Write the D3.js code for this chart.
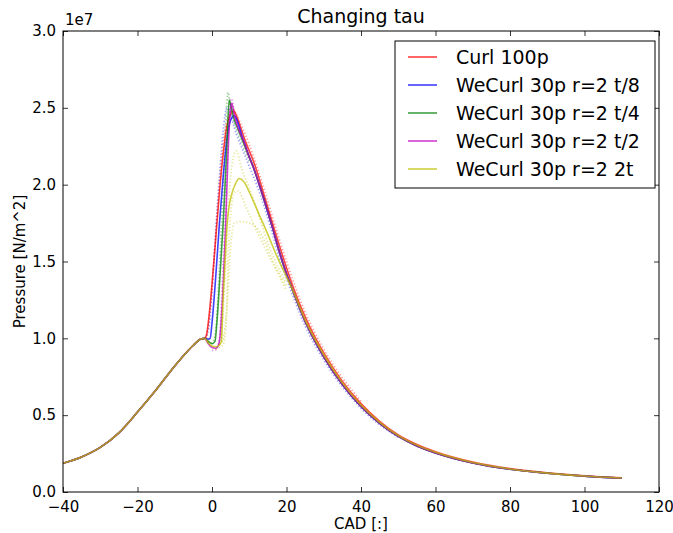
<!DOCTYPE html>
<html>
<head>
<meta charset="utf-8">
<script src="https://cdn.jsdelivr.net/npm/d3@7"></script>
<style>
  body { margin: 0; background: #fff; }
  svg { font-family: "DejaVu Sans", sans-serif; }
</style>
</head>
<body>
<svg id="chart" width="673" height="533"></svg>
<script>
// pressure values are in units of 1e7 N/m^2, x is CAD

// shared compression stroke (all runs lie on top of each other here)
var compression = [[-40,0.187],[-35,0.228],[-30,0.29],[-25,0.385],[-20,0.52],[-15,0.665],
  [-10,0.82],[-7,0.905],[-5,0.955],[-3,0.995],[-2,1.0]];

// combustion part of each run
var redBurn = [[-1.5,1.02],[-1,1.1],[0,1.35],[1,1.65],[2,1.95],[3,2.2],[4,2.38],[5,2.46],
  [5.8,2.48],[7,2.42],[8,2.35],[9,2.28],[10,2.22],[11,2.16],[12,2.09],[14,1.93],[16,1.77],[18,1.61]];
var blueBurn = [[-1,0.995],[-0.5,1.0],[0,1.1],[1,1.4],[2,1.75],[3,2.05],[4,2.3],[5,2.42],
  [6,2.45],[7,2.4],[8,2.32],[9,2.25],[10,2.18],[11,2.12],[12,2.05],[14,1.9],[16,1.74],[18,1.57]];
var greenBurn = [[-1,0.98],[0,0.965],[0.8,0.98],[1.3,1.1],[2,1.35],[3,1.75],[4,2.25],[4.6,2.55],
  [5.2,2.5],[6,2.42],[7,2.36],[8,2.3],[9,2.24],[10,2.18],[11,2.12],[12,2.05],[14,1.9],[16,1.74],[18,1.57]];
var magentaBurn = [[-1,0.965],[0,0.94],[1,0.935],[1.8,0.96],[2.3,1.05],[3,1.35],[3.7,1.75],
  [4.3,2.2],[5,2.5],[5.3,2.53],[6,2.45],[7,2.37],[8,2.31],[9,2.25],[10,2.18],[11,2.12],[12,2.05],
  [14,1.9],[16,1.74],[18,1.57]];
var yellowBurn = [[-1,0.97],[0,0.95],[1,0.945],[2,0.955],[2.5,0.98],[3,1.27],[3.5,1.5],[4,1.73],
  [4.6,1.86],[5.3,1.94],[6.2,2.0],[7.25,2.04],[8.5,2.02],[10.6,1.92],[12.4,1.82],[15.1,1.67],
  [17.5,1.53]];

// expansion stroke
var redExpansion = [[20,1.46],[22,1.32],[25,1.14],[30,0.905],[35,0.72],[40,0.575],[45,0.46],
  [50,0.372],[55,0.31],[60,0.262],[70,0.195],[80,0.152],[90,0.125],[100,0.106],[110,0.093]];
var weExpansion = [[20,1.42],[22,1.29],[25,1.11],[30,0.88],[35,0.70],[40,0.557],[45,0.447],
  [50,0.362],[55,0.3],[60,0.254],[70,0.189],[80,0.148],[90,0.122],[100,0.103],[110,0.09]];
var yellowExpansion = [[20,1.40],[22,1.295],[25,1.12],[30,0.893],[35,0.71],[40,0.566],
  [45,0.453],[50,0.367],[55,0.305],[60,0.258],[70,0.192],[80,0.15],[90,0.123],[100,0.104],[110,0.091]];

// faint dotted traces of the single runs
var redDots = [[-1.5,1.0],[-0.5,1.2],[0.5,1.5],[1.5,1.85],[2.5,2.15],[3.5,2.35],[4.5,2.45],
  [5.5,2.5],[6.5,2.46],[8,2.38],[10,2.26],[12,2.12],[14,1.97],[16,1.81],[18,1.65],[20,1.5],
  [25,1.17],[30,0.93],[40,0.59]];
var blueDots = [[-2,1.0],[-1,1.05],[0,1.3],[1,1.7],[2,2.05],[3,2.35],[4,2.5],[5,2.46],[6,2.37],
  [8,2.24],[10,2.12],[12,2.0],[14,1.86],[16,1.7],[18,1.53],[20,1.39],[25,1.08],[30,0.86],
  [40,0.545],[50,0.355]];
var greenDots = [[-1,0.98],[0,0.97],[1,1.05],[2,1.45],[3,2.0],[3.8,2.45],[4.3,2.6],[5,2.5],
  [6,2.4],[8,2.27],[10,2.15]];
var magentaDots = [[0,0.92],[1,0.925],[2,1.0],[3,1.5],[4,2.1],[4.8,2.5],[5.3,2.56],[6,2.47],
  [8,2.31],[10,2.17]];
var yellowDots1 = [[2,0.96],[3,1.0],[4,1.2],[5,1.6],[6,1.75],[8,1.76],[10,1.75],[12,1.72],
  [14,1.64],[16,1.52],[18,1.42],[20,1.34]];
var yellowDots2 = [[2.5,0.98],[3.5,1.4],[4.5,1.9],[5.5,2.15],[6.5,2.22],[8,2.1],[10,1.98],
  [12,1.84],[15,1.62],[18,1.45],[20,1.36]];
var yellowDots3 = [[1,0.93],[2,0.94],[3,0.96],[3.8,1.1],[4.3,1.5],[5,1.8],[6,1.95],[7,1.96],
  [9,1.86],[12,1.7],[15,1.55],[18,1.41],[20,1.31]];

var seriesNames = ["Curl 100p", "WeCurl 30p r=2 t/8", "WeCurl 30p r=2 t/4",
  "WeCurl 30p r=2 t/2", "WeCurl 30p r=2 2t"];
var seriesColors = ["#ff0000", "#0000ff", "#008000", "#bf00bf", "#bfbf00"];

var xTicks = [-40, -20, 0, 20, 40, 60, 80, 100, 120];
var yTicks = [0, 0.5, 1.0, 1.5, 2.0, 2.5, 3.0];

var solid = [
  compression.concat(redBurn, redExpansion),
  compression.concat(blueBurn, weExpansion),
  compression.concat(greenBurn, weExpansion),
  compression.concat(magentaBurn, weExpansion),
  compression.concat(yellowBurn, yellowExpansion)
];
var dotted = [
  {c: 0, d: redDots}, {c: 1, d: blueDots}, {c: 2, d: greenDots}, {c: 3, d: magentaDots},
  {c: 4, d: yellowDots1}, {c: 4, d: yellowDots2}, {c: 4, d: yellowDots3}
];

var svg = d3.select("#chart"),
    margin = {top: 31, right: 14, bottom: 41, left: 63},
    width = +svg.attr("width") - margin.left - margin.right,
    height = +svg.attr("height") - margin.top - margin.bottom;

var x = d3.scaleLinear().domain([-40, 120]).range([0, width]);
var y = d3.scaleLinear().domain([0, 3]).range([height, 0]);

var g = svg.append("g")
    .attr("transform", "translate(" + margin.left + "," + margin.top + ")");

g.append("clipPath").attr("id", "clip")
  .append("rect").attr("width", width).attr("height", height);

var line = d3.line()
    .x(function(d) { return x(d[0]); })
    .y(function(d) { return y(d[1]); })
    .curve(d3.curveMonotoneX);

var plot = g.append("g").attr("clip-path", "url(#clip)");

//dotted single runs first
plot.selectAll(".dots")
  .data(dotted)
  .enter().append("path")
    .attr("class", "dots")
    .attr("d", function(d) { return line(d.d); })
    .attr("fill", "none")
    .attr("stroke", function(d) { return seriesColors[d.c]; })
    .attr("stroke-opacity", 0.38)
    .attr("stroke-width", 1.8)
    .attr("stroke-dasharray", "1.3,2");

plot.selectAll(".series")
  .data(solid)
  .enter().append("path")
    .attr("class", "series")
    .attr("d", line)
    .attr("fill", "none")
    .attr("stroke", function(d, i) { return seriesColors[i]; })
    .attr("stroke-opacity", 0.75)
    .attr("stroke-width", 1.6);

// axes, matplotlib style: ticks inside on all four sides
var tickFmt = d3.format(".1f");
function minus(v) { return String(v).replace("-", "\u2212"); }

var xb = g.append("g")
    .attr("transform", "translate(0," + height + ")")
    .call(d3.axisBottom(x).tickValues(xTicks).tickSizeInner(-5).tickSizeOuter(0).tickPadding(9)
      .tickFormat(minus));
var xt = g.append("g")
    .call(d3.axisTop(x).tickValues(xTicks).tickSizeInner(-5).tickSizeOuter(0).tickFormat(""));
var yl = g.append("g")
    .call(d3.axisLeft(y).tickValues(yTicks).tickSizeInner(-5).tickSizeOuter(0).tickPadding(7)
      .tickFormat(tickFmt));
var yr = g.append("g")
    .attr("transform", "translate(" + width + ",0)")
    .call(d3.axisRight(y).tickValues(yTicks).tickSizeInner(-5).tickSizeOuter(0).tickFormat(""));

[xb, xt, yl, yr].forEach(function(a) {
  a.select(".domain").remove();
  a.selectAll(".tick line").attr("stroke", "#000").attr("stroke-width", 0.8);
  a.selectAll("text").attr("font-family", "DejaVu Sans").attr("font-size", 15).attr("fill", "#000");
});

g.append("rect")
  .attr("width", width).attr("height", height)
  .attr("fill", "none").attr("stroke", "#000").attr("stroke-width", 1);

// title and labels
g.append("text")
  .attr("x", width / 2).attr("y", -8)
  .attr("text-anchor", "middle")
  .attr("font-size", 19)
  .text("Changing tau");

g.append("text")
  .attr("x", 2).attr("y", -6)
  .attr("font-size", 15)
  .text("1e7");

g.append("text")
  .attr("x", width / 2).attr("y", height + 37)
  .attr("text-anchor", "middle")
  .attr("font-size", 15)
  .text("CAD [:]");

g.append("text")
  .attr("transform", "translate(" + (-38) + "," + (height / 2) + ") rotate(-90)")
  .attr("text-anchor", "middle")
  .attr("font-size", 15)
  .text("Pressure [N/m^2]");

// legend
var legend = g.append("g").attr("transform", "translate(" + (395 - margin.left) + "," + (41 - margin.top) + ")");
legend.append("rect")
  .attr("width", 260).attr("height", 147)
  .attr("fill", "#fff").attr("stroke", "#000").attr("stroke-width", 1);

var items = legend.selectAll(".item")
  .data(seriesNames)
  .enter().append("g")
    .attr("class", "item")
    .attr("transform", function(d, i) { return "translate(0," + (16 + i * 28) + ")"; });

items.append("line")
  .attr("x1", 13).attr("x2", 42)
  .attr("stroke", function(d, i) { return seriesColors[i]; })
  .attr("stroke-opacity", 0.75)
  .attr("stroke-width", 1.6);

items.append("text")
  .attr("x", 61).attr("dy", "0.36em")
  .attr("font-size", 19)
  .text(function(d) { return d; });
</script>
</body>
</html>
